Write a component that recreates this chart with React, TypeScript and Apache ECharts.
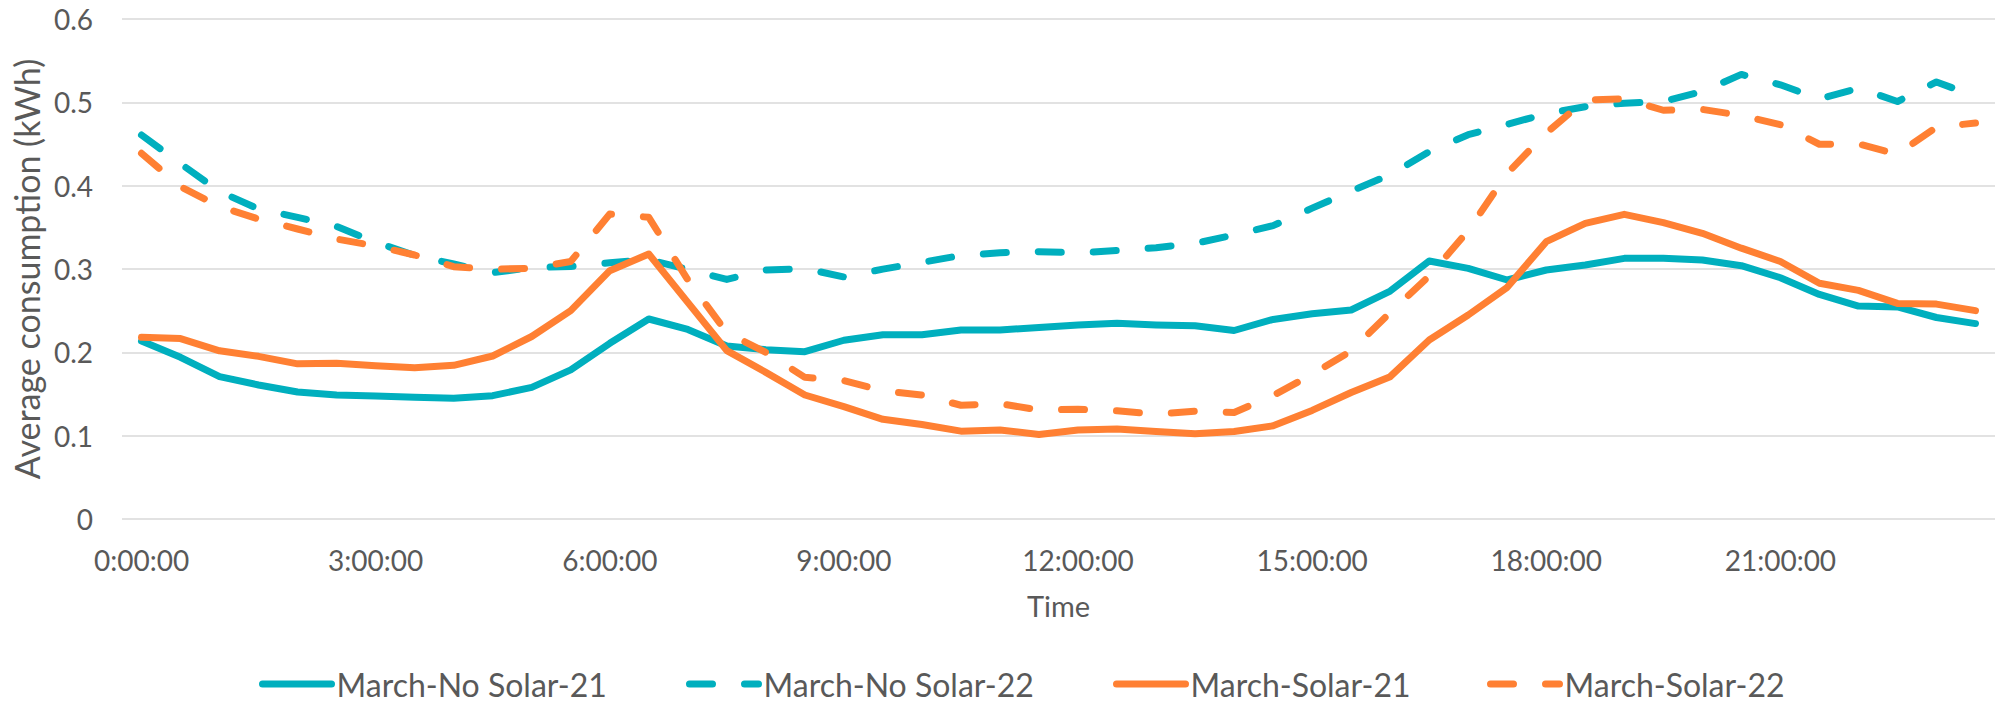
import React, { useEffect, useRef } from "react";
import * as echarts from "echarts";

// Half-hourly time slots, 0:00:00 .. 23:30:00
const times: string[] = [
  "0:00:00", "0:30:00", "1:00:00", "1:30:00", "2:00:00", "2:30:00",
  "3:00:00", "3:30:00", "4:00:00", "4:30:00", "5:00:00", "5:30:00",
  "6:00:00", "6:30:00", "7:00:00", "7:30:00", "8:00:00", "8:30:00",
  "9:00:00", "9:30:00", "10:00:00", "10:30:00", "11:00:00", "11:30:00",
  "12:00:00", "12:30:00", "13:00:00", "13:30:00", "14:00:00", "14:30:00",
  "15:00:00", "15:30:00", "16:00:00", "16:30:00", "17:00:00", "17:30:00",
  "18:00:00", "18:30:00", "19:00:00", "19:30:00", "20:00:00", "20:30:00",
  "21:00:00", "21:30:00", "22:00:00", "22:30:00", "23:00:00", "23:30:00",
];

const noSolar21: number[] = [
  0.2136, 0.194, 0.1708, 0.1608, 0.1524, 0.1488,
  0.1476, 0.146, 0.145, 0.148, 0.158, 0.179,
  0.2108, 0.24, 0.2275, 0.2075, 0.2032, 0.2008,
  0.2145, 0.2212, 0.221, 0.2268, 0.2268, 0.2298,
  0.2328, 0.2348, 0.2328, 0.2318, 0.2262, 0.2395,
  0.2462, 0.2508, 0.2735, 0.3096, 0.3008, 0.2868,
  0.2988, 0.3048, 0.3128, 0.3128, 0.3108, 0.304,
  0.2895, 0.2695, 0.2555, 0.2545, 0.2418, 0.2345,
];

const noSolar22: number[] = [
  0.4608, 0.4264, 0.393, 0.372, 0.362, 0.351,
  0.332, 0.3164, 0.306, 0.2956, 0.3016, 0.303,
  0.3076, 0.311, 0.2996, 0.2875, 0.2988, 0.3005,
  0.2905, 0.2998, 0.308, 0.3162, 0.3195, 0.3208,
  0.3194, 0.3222, 0.3256, 0.3308, 0.3408, 0.352,
  0.373, 0.3935, 0.4132, 0.4408, 0.4612, 0.4736,
  0.4864, 0.4948, 0.499, 0.501, 0.513, 0.5335,
  0.521, 0.504, 0.517, 0.501, 0.5245, 0.507,
];

const solar21: number[] = [
  0.218, 0.2165, 0.2018, 0.1952, 0.1862, 0.1869,
  0.184, 0.1816, 0.1844, 0.1956, 0.219, 0.25,
  0.298, 0.318, 0.26, 0.202, 0.176, 0.1488,
  0.1348, 0.1196, 0.1134, 0.1054, 0.1068, 0.1014,
  0.1068, 0.108, 0.105, 0.1022, 0.105, 0.1118,
  0.1303, 0.1518, 0.1708, 0.2148, 0.2448, 0.278,
  0.3328, 0.3548, 0.3656, 0.3556, 0.3428, 0.325,
  0.309, 0.2829, 0.2743, 0.2587, 0.2579, 0.25,
];

const solar22: number[] = [
  0.4388, 0.3988, 0.375, 0.36, 0.348, 0.336,
  0.3276, 0.3168, 0.3028, 0.2996, 0.301, 0.309,
  0.366, 0.362, 0.287, 0.2236, 0.2, 0.17,
  0.166, 0.1538, 0.1488, 0.1365, 0.1384, 0.1308,
  0.1316, 0.1298, 0.126, 0.1294, 0.1278, 0.1482,
  0.1736, 0.2018, 0.2478, 0.2916, 0.346, 0.4148,
  0.4632, 0.5028, 0.5042, 0.4905, 0.4915, 0.4843,
  0.4732, 0.4497, 0.4501, 0.4378, 0.4702, 0.4752,
];

const seriesNames = [
  "March-No Solar-21",
  "March-No Solar-22",
  "March-Solar-21",
  "March-Solar-22",
];

const yTicks = [0, 0.1, 0.2, 0.3, 0.4, 0.5, 0.6];

const TEAL = "#00afbe";
const ORANGE = "#ff8033";
const TEXT = "#595959";
const FONT = "Lato, 'Noto Sans', sans-serif";
const LINE_W = 7;
const DASH = [23, 32];

// left edge of each legend entry's line icon
const legendLefts = [259, 686, 1113, 1487];

export default function App() {
  const ref = useRef<HTMLDivElement>(null);

  useEffect(() => {
    if (!ref.current) return;
    const chart = echarts.init(ref.current, undefined, { renderer: "svg" });

    const mk = (name: string, data: number[], color: string, dashed: boolean) => ({
      name,
      type: "line",
      data,
      symbol: "none",
      showSymbol: false,
      smooth: false,
      lineStyle: {
        color,
        width: LINE_W,
        type: dashed ? DASH : "solid",
        cap: "round",
        join: "round",
      },
      itemStyle: { color },
    });

    const legends = seriesNames.map((name, i) => ({
      left: legendLefts[i],
      top: 667,
      itemWidth: 69,
      itemHeight: 30,
      padding: 0,
      textStyle: { fontFamily: FONT, fontSize: 32, lineHeight: 34, color: TEXT },
      lineStyle: { width: LINE_W },
      itemStyle: { opacity: 0 },
      data: [name],
    }));

    chart.setOption({
      animation: false,
      backgroundColor: "#ffffff",
      textStyle: { fontFamily: FONT, color: TEXT },
      grid: { left: 122, top: 19, width: 1888, height: 500, containLabel: false },
      legend: legends,
      xAxis: {
        type: "category",
        data: times,
        boundaryGap: true,
        name: "Time",
        nameLocation: "middle",
        nameGap: 72,
        nameTextStyle: { fontFamily: FONT, fontSize: 29, color: TEXT },
        axisLine: { show: false },
        axisTick: { show: false },
        axisLabel: {
          interval: 5,
          margin: 27,
          fontFamily: FONT,
          fontSize: 28,
          color: TEXT,
        },
        splitLine: { show: false },
      },
      yAxis: {
        type: "value",
        min: yTicks[0],
        max: yTicks[yTicks.length - 1],
        interval: 0.1,
        name: "Average consumption (kWh)",
        nameLocation: "middle",
        nameGap: 77,
        nameTextStyle: { fontFamily: FONT, fontSize: 34, color: TEXT },
        axisLine: { show: false },
        axisTick: { show: false },
        axisLabel: {
          margin: 29,
          fontFamily: FONT,
          fontSize: 28,
          color: TEXT,
          formatter: (v: number) => String(Math.round(v * 10) / 10),
        },
        splitLine: { show: true, lineStyle: { color: "#d9d9d9", width: 1.6 } },
      },
      series: [
        mk(seriesNames[0], noSolar21, TEAL, false),
        mk(seriesNames[1], noSolar22, TEAL, true),
        mk(seriesNames[2], solar21, ORANGE, false),
        mk(seriesNames[3], solar22, ORANGE, true),
      ],
    });

    return () => chart.dispose();
  }, []);

  return (
    <div
      ref={ref}
      style={{ position: "fixed", left: 0, top: 0, width: 1995, height: 705, background: "#fff" }}
    />
  );
}
